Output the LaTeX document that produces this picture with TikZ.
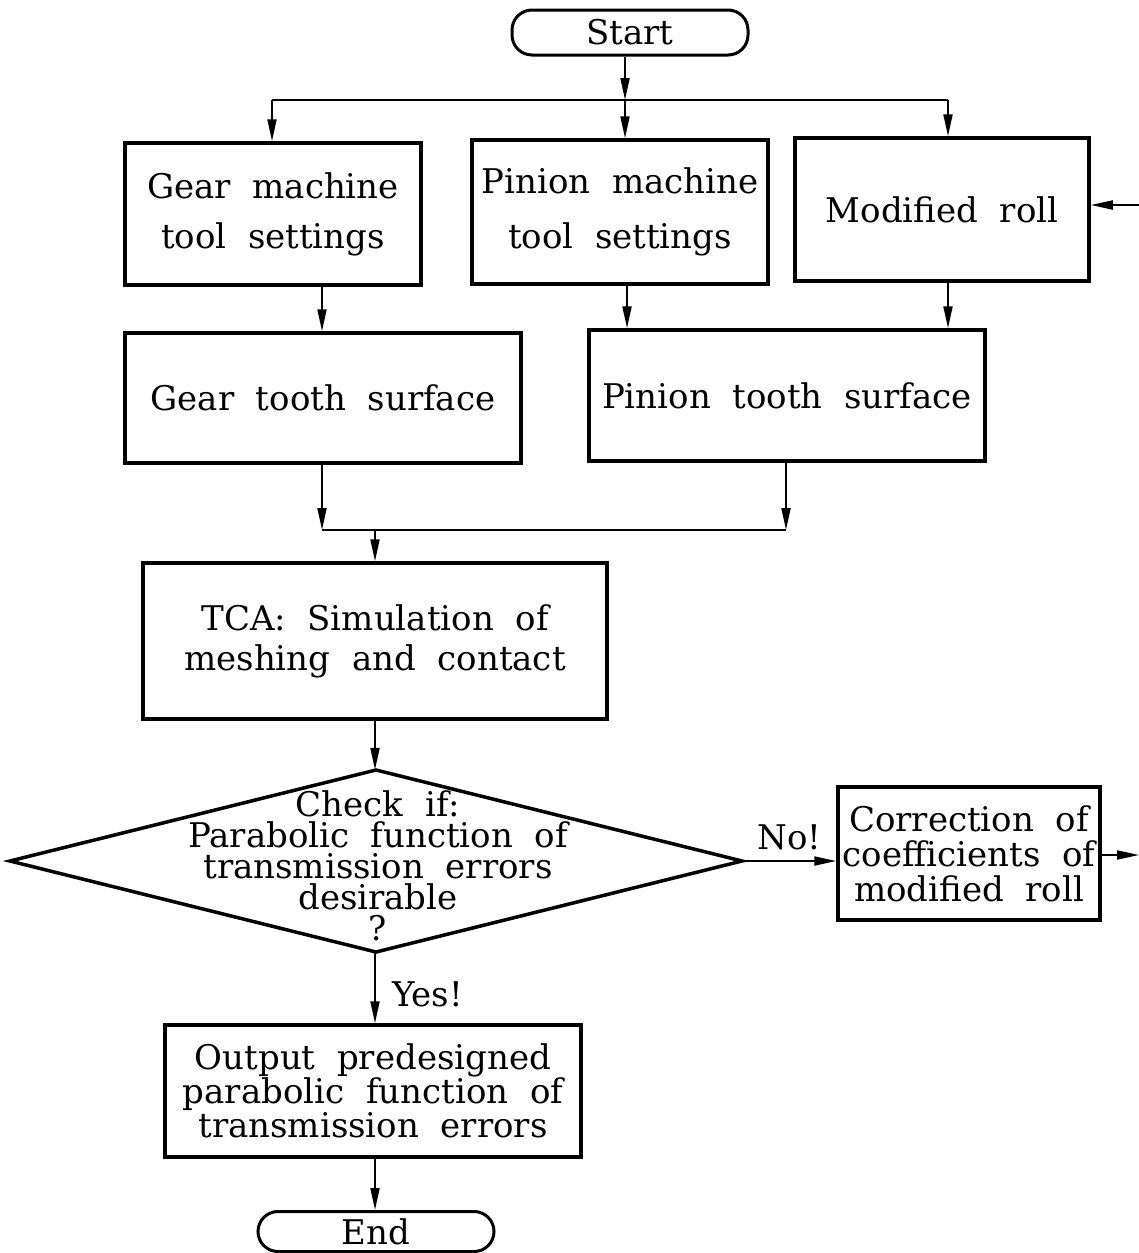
\documentclass[tikz,border=0pt]{standalone}
\usepackage{fontspec}
\setmainfont[WordSpace=2.0]{DejaVu Serif}
\usetikzlibrary{arrows.meta,calc}
\begin{document}
\begin{tikzpicture}[x=1pt,y=-1pt,
  every node/.style={font=\fontsize{34}{50}\selectfont},
  box/.style={draw,line width=3.5pt,inner sep=0pt,align=center},
  term/.style={draw,line width=3pt,rounded corners=20pt,inner sep=0pt,align=center},
  dia/.style={draw,line width=3.5pt},
  conn/.style={line width=2pt},
  arr/.style={conn,-{Triangle[length=22pt,width=9pt]}}]
\useasboundingbox (0,0) rectangle (1139,1253);
% nodes
\node[term,minimum width=236pt,minimum height=45pt] (start) at (630,32.5) {Start};
\node[box,minimum width=296pt,minimum height=142pt] (gm) at (273,214) {Gear machine\\tool settings};
\node[box,minimum width=296pt,minimum height=144pt,font=\fontsize{34}{55}\selectfont] (pm) at (620,212) {Pinion machine\\tool settings};
\node[box,minimum width=294pt,minimum height=143pt] (mr) at (942,209.5) {Modified roll};
\node[box,minimum width=396pt,minimum height=130pt] (gt) at (323,398) {Gear tooth surface};
\node[box,minimum width=396pt,minimum height=131pt] (pt) at (787,395.5) {Pinion tooth surface};
\node[box,minimum width=464pt,minimum height=156pt,font=\fontsize{34}{40}\selectfont] (tca) at (375,641) {TCA: Simulation of\\meshing and contact};
\path[dia] (10,861) -- (376,770) -- (742,861) -- (376,952) -- cycle;
\node[minimum width=732pt,minimum height=182pt,inner sep=0pt] (dec) at (376,861) {};
\node[align=center,inner sep=0pt,font=\fontsize{34}{31}\selectfont] (dect) at (378,866) {Check if:\\Parabolic function of\\transmission errors\\desirable\\?};
\node[box,minimum width=262pt,minimum height=133pt,font=\fontsize{34}{35}\selectfont] (corr) at (969,853.5) {Correction of\\coefficients of\\modified roll};
\node[box,minimum width=416pt,minimum height=132pt,font=\fontsize{34}{34}\selectfont] (out) at (373,1091) {Output predesigned\\parabolic function of\\transmission errors};
\node[term,minimum width=236pt,minimum height=40pt] (end) at (376,1231.5) {End};
% coordinates
\coordinate (bs) at (625,100);
\coordinate (bl) at (272,100);
\coordinate (br) at (948,100);
\coordinate (jl) at (322,530);
\coordinate (jr) at (786,530);
\coordinate (jm) at (375,530);
\coordinate (fbout) at (1139,855);
\coordinate (fbin) at (1139,205);
\coordinate (pmx) at (627,0);
\coordinate (mrx) at (948,0);
% connectors
\draw[arr] (start.south -| bs) -- (bs);
\draw[conn] (bl) -- (br);
\draw[arr] (bl) -- (gm.north -| bl);
\draw[arr] (bs) -- (pm.north -| bs);
\draw[arr] (br) -- (mr.north -| br);
\draw[arr] (gm.south -| jl) -- (gt.north -| jl);
\draw[arr] (pm.south -| pmx) -- (pt.north -| pmx);
\draw[arr] (mr.south -| mrx) -- (pt.north -| mrx);
\draw[arr] (gt.south -| jl) -- (jl);
\draw[arr] (pt.south -| jr) -- (jr);
\draw[conn] (jl) -- (jr);
\draw[arr] (jm) -- (tca.north -| jm);
\draw[arr] (tca.south -| jm) -- (dec.north -| jm);
\draw[arr] (dec.east) -- node[above=10pt,inner sep=0pt] {No!} (corr.west |- dec.east);
\draw[arr] (corr.east |- fbout) -- (fbout);
\draw[arr] (fbin) -- (mr.east |- fbin);
\draw[arr] (dec.south -| jm) -- node[right=16pt,inner sep=0pt,yshift=-7pt] {Yes!} (out.north -| jm);
\draw[arr] (out.south -| jm) -- (end.north -| jm);
\end{tikzpicture}
\end{document}
